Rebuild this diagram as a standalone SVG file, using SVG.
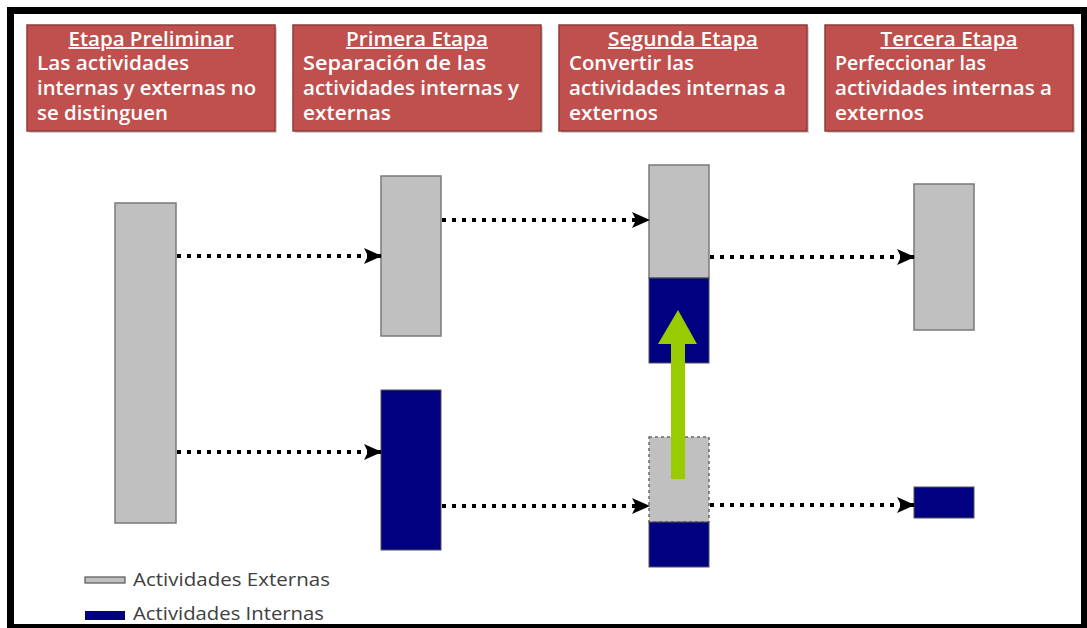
<svg xmlns="http://www.w3.org/2000/svg" width="1087" height="628" viewBox="0 0 1087 628">
<style>
.hdr{fill:#C0504D;stroke:#8E3B39;stroke-width:1.5}
.shd{fill:#9a9a9a;opacity:.45}
.ht{font-family:"Open Sans","Liberation Sans",sans-serif;font-weight:600;font-size:19px;fill:#ffffff}
.ttl{text-decoration:underline}
.ext{fill:#C0C0C0;stroke:#7a7a7a;stroke-width:1.5}
.int{fill:#000080;stroke:#555555;stroke-width:1}
.dash{fill:#C0C0C0;stroke:#6a6a6a;stroke-width:1.5;stroke-dasharray:3 3}
.con{fill:none;stroke:#000;stroke-width:4;stroke-dasharray:4 6;marker-end:url(#ah)}
.lg{font-family:"Open Sans","Liberation Sans",sans-serif;font-size:18px;fill:#404040}
</style>
<defs>
<marker id="ah" markerUnits="userSpaceOnUse" markerWidth="18" markerHeight="16" refX="17" refY="8" orient="auto">
<path d="M0,0 L18,8 L0,16 L4,8 Z" fill="#000"/>
</marker>
</defs>
<rect x="0" y="0" width="1087" height="628" fill="#ffffff"/>
<rect x="10.5" y="10.5" width="1074" height="617" fill="none" stroke="#000" stroke-width="7"/>

<g id="h1">
<rect class="shd" x="29" y="27" width="248" height="106"/>
<rect class="hdr" x="27" y="25" width="248" height="106"/>
<text class="ht ttl" x="151" y="46" text-anchor="middle" textLength="165" lengthAdjust="spacingAndGlyphs">Etapa Preliminar</text>
<text class="ht" x="37" y="70" textLength="152" lengthAdjust="spacingAndGlyphs">Las actividades</text>
<text class="ht" x="37" y="95" textLength="219" lengthAdjust="spacingAndGlyphs">internas y externas no</text>
<text class="ht" x="37" y="120" textLength="131" lengthAdjust="spacingAndGlyphs">se distinguen</text>
</g>
<g id="h2">
<rect class="shd" x="295" y="27" width="248" height="106"/>
<rect class="hdr" x="293" y="25" width="248" height="106"/>
<text class="ht ttl" x="417" y="46" text-anchor="middle" textLength="142" lengthAdjust="spacingAndGlyphs">Primera Etapa</text>
<text class="ht" x="303" y="70" textLength="183" lengthAdjust="spacingAndGlyphs">Separación de las</text>
<text class="ht" x="303" y="95" textLength="216" lengthAdjust="spacingAndGlyphs">actividades internas y</text>
<text class="ht" x="303" y="120" textLength="88" lengthAdjust="spacingAndGlyphs">externas</text>
</g>
<g id="h3">
<rect class="shd" x="561" y="27" width="248" height="106"/>
<rect class="hdr" x="559" y="25" width="248" height="106"/>
<text class="ht ttl" x="683" y="46" text-anchor="middle" textLength="150" lengthAdjust="spacingAndGlyphs">Segunda Etapa</text>
<text class="ht" x="569" y="70" textLength="125" lengthAdjust="spacingAndGlyphs">Convertir las</text>
<text class="ht" x="569" y="95" textLength="217" lengthAdjust="spacingAndGlyphs">actividades internas a</text>
<text class="ht" x="569" y="120" textLength="89" lengthAdjust="spacingAndGlyphs">externos</text>
</g>
<g id="h4">
<rect class="shd" x="827" y="27" width="248" height="106"/>
<rect class="hdr" x="825" y="25" width="248" height="106"/>
<text class="ht ttl" x="949" y="46" text-anchor="middle" textLength="137" lengthAdjust="spacingAndGlyphs">Tercera Etapa</text>
<text class="ht" x="835" y="70" textLength="151" lengthAdjust="spacingAndGlyphs">Perfeccionar las</text>
<text class="ht" x="835" y="95" textLength="217" lengthAdjust="spacingAndGlyphs">actividades internas a</text>
<text class="ht" x="835" y="120" textLength="89" lengthAdjust="spacingAndGlyphs">externos</text>
</g>

<g id="b0"><rect class="ext" x="115" y="203" width="61" height="320"/></g>
<g id="b1e"><rect class="ext" x="381" y="176" width="60" height="160"/></g>
<g id="b1i"><rect class="int" x="381" y="390" width="60" height="160"/></g>
<g id="b2e"><rect class="ext" x="649" y="165" width="60" height="113"/></g>
<g id="b2i"><rect class="int" x="649" y="278" width="60" height="85"/></g>
<g id="b2d"><rect class="dash" x="649" y="437" width="60" height="85"/></g>
<g id="b2r"><rect class="int" x="649" y="522" width="60" height="45"/></g>
<g id="b3e"><rect class="ext" x="914" y="184" width="60" height="146"/></g>
<g id="b3i"><rect class="int" x="914" y="487" width="60" height="31"/></g>

<g id="connectors">
<line class="con" x1="177" y1="256" x2="381" y2="256"/>
<line class="con" x1="177" y1="452" x2="381" y2="452"/>
<line class="con" x1="442" y1="220" x2="649" y2="220"/>
<line class="con" x1="442" y1="506" x2="649" y2="506"/>
<line class="con" x1="710" y1="257" x2="914" y2="257"/>
<line class="con" x1="710" y1="505" x2="914" y2="505"/>
<path id="green" d="M671,479 L671,344 L658,344 L678,310 L697,344 L685,344 L685,479 Z" fill="#99CC00"/>
</g>

<g id="legend">
<rect x="85" y="577" width="40" height="6" fill="#C0C0C0" stroke="#555" stroke-width="1.2"/>
<text class="lg" x="133" y="586" textLength="197" lengthAdjust="spacingAndGlyphs">Actividades Externas</text>
<rect x="85" y="611" width="40" height="9" fill="#000080"/>
<text class="lg" x="133" y="620" textLength="191" lengthAdjust="spacingAndGlyphs">Actividades Internas</text>
</g>
</svg>
